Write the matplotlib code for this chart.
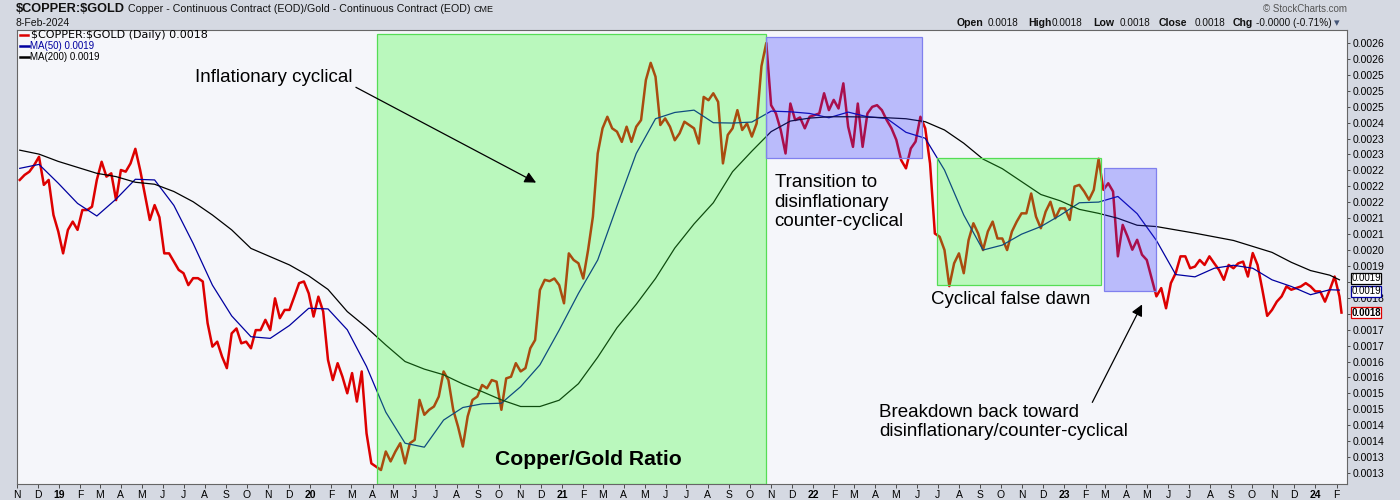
import matplotlib
matplotlib.use("Agg")
import matplotlib.dates as mdates
import matplotlib.pyplot as plt
import pandas as pd
from matplotlib.lines import Line2D
from matplotlib.patches import Rectangle

plt.rcParams["font.family"] = ["Liberation Sans", "DejaVu Sans"]

# weekly copper/gold ratio
week_dates = pd.date_range("2018-11-05", "2024-02-05", freq="7D").append(pd.DatetimeIndex(["2024-02-08"]))
ratio = [
    0.002186, 0.002201, 0.002211, 0.002231, 0.002256, 0.002171, 0.002186, 0.002080, 0.002030, 0.001964,
    0.002035, 0.002060, 0.002035, 0.002095, 0.002095, 0.002105, 0.002186, 0.002241, 0.002196, 0.002206,
    0.002125, 0.002216, 0.002211, 0.002236, 0.002280, 0.002216, 0.002140, 0.002065, 0.002110, 0.002073,
    0.001964, 0.001964, 0.001939, 0.001914, 0.001904, 0.001868, 0.001889, 0.001889, 0.001879, 0.001753,
    0.001682, 0.001697, 0.001652, 0.001617, 0.001722, 0.001737, 0.001692, 0.001697, 0.001677, 0.001732,
    0.001732, 0.001763, 0.001732, 0.001828, 0.001768, 0.001793,
    0.001793, 0.001833, 0.001874, 0.001879, 0.001843, 0.001773, 0.001833, 0.001788, 0.001642, 0.001581,
    0.001632, 0.001591, 0.001541, 0.001602, 0.001516, 0.001607, 0.001420, 0.001329, 0.001319, 0.001309,
    0.001365, 0.001335, 0.001365, 0.001390, 0.001329, 0.001390, 0.001400, 0.001521, 0.001476, 0.001491,
    0.001501, 0.001531, 0.001607, 0.001581, 0.001491, 0.001440, 0.001380, 0.001471, 0.001521, 0.001531,
    0.001566, 0.001556, 0.001581, 0.001576, 0.001491, 0.001586, 0.001591, 0.001632, 0.001607, 0.001617,
    0.001677, 0.001702, 0.001853, 0.001884, 0.001880,
    0.001888, 0.001868, 0.001813, 0.001964, 0.001944, 0.001934, 0.001888, 0.001974, 0.002075, 0.002266,
    0.002342, 0.002377, 0.002342, 0.002332, 0.002301, 0.002347, 0.002301, 0.002347, 0.002367, 0.002488,
    0.002540, 0.002498, 0.002352, 0.002372, 0.002347, 0.002306, 0.002327, 0.002362, 0.002352, 0.002342,
    0.002296, 0.002437, 0.002427, 0.002448, 0.002422, 0.002236, 0.002322, 0.002342, 0.002397, 0.002337,
    0.002357, 0.002317, 0.002357, 0.002530, 0.002600, 0.002412, 0.002387, 0.002337, 0.002266, 0.002417,
    0.002367, 0.002375, 0.002342, 0.002377, 0.002382,
    0.002387, 0.002448, 0.002397, 0.002428, 0.002402, 0.002478, 0.002347, 0.002286, 0.002417, 0.002286,
    0.002387, 0.002407, 0.002412, 0.002397, 0.002367, 0.002342, 0.002307, 0.002246, 0.002221, 0.002281,
    0.002302, 0.002377, 0.002342, 0.002236, 0.002024, 0.002014, 0.001974, 0.001865, 0.001934, 0.001964,
    0.001904, 0.002004, 0.002055, 0.002024, 0.001974, 0.002030, 0.002060, 0.002009, 0.002009, 0.001974,
    0.002030, 0.002060, 0.002085, 0.002085, 0.002145, 0.002075, 0.002040, 0.002090, 0.002120, 0.002070,
    0.002100, 0.002100, 0.002065, 0.002166, 0.002171,
    0.002151, 0.002126, 0.002156, 0.002250, 0.002156, 0.002176, 0.002151, 0.001955, 0.002050, 0.002015,
    0.001975, 0.002005, 0.001960, 0.001944, 0.001889, 0.001834, 0.001859, 0.001798, 0.001874, 0.001904,
    0.001955, 0.001955, 0.001919, 0.001924, 0.001944, 0.001929, 0.001955, 0.001934, 0.001914, 0.001884,
    0.001929, 0.001919, 0.001934, 0.001939, 0.001894, 0.001965, 0.001929, 0.001854, 0.001775, 0.001793,
    0.001818, 0.001834, 0.001864, 0.001854, 0.001859, 0.001864, 0.001874, 0.001864, 0.001849, 0.001849,
    0.001818, 0.001854, 0.001894, 0.001834, 0.001785,
]

# moving averages, read every 4 weeks
ma_dates = pd.date_range("2018-11-05", "2024-01-22", freq="28D").append(pd.DatetimeIndex(["2024-02-05"]))
ma50 = [
    0.002221, 0.002233, 0.002176, 0.002115, 0.002077, 0.002128, 0.002188, 0.002186, 0.002109, 0.001994,
    0.001868, 0.001775, 0.001712, 0.001707, 0.001746, 0.001798, 0.001796, 0.001733, 0.001622, 0.001484,
    0.001390, 0.001378, 0.001460, 0.001498, 0.001509, 0.001511, 0.001561, 0.001627, 0.001732, 0.001843,
    0.001944, 0.002107, 0.002266, 0.002371, 0.002390, 0.002397, 0.002359, 0.002358, 0.002361, 0.002394,
    0.002392, 0.002387, 0.002374, 0.002391, 0.002377, 0.002372, 0.002330, 0.002312, 0.002216, 0.002080,
    0.001974, 0.001989, 0.002022, 0.002045, 0.002079, 0.002117, 0.002119, 0.002136, 0.002084, 0.002003,
    0.001900, 0.001893, 0.001919, 0.001928, 0.001919, 0.001884, 0.001864, 0.001839, 0.001854, 0.001853,
]
ma200 = [
    0.002276, 0.002264, 0.002242, 0.002224, 0.002206, 0.002196, 0.002179, 0.002173, 0.002151, 0.002120,
    0.002080, 0.002035, 0.001979, 0.001954, 0.001929, 0.001896, 0.001855, 0.001788, 0.001740, 0.001687,
    0.001637, 0.001614, 0.001597, 0.001569, 0.001546, 0.001521, 0.001501, 0.001501, 0.001520, 0.001570,
    0.001650, 0.001739, 0.001810, 0.001888, 0.001980, 0.002053, 0.002117, 0.002211, 0.002273, 0.002332,
    0.002364, 0.002373, 0.002377, 0.002377, 0.002376, 0.002374, 0.002371, 0.002362, 0.002337, 0.002297,
    0.002249, 0.002220, 0.002181, 0.002142, 0.002123, 0.002097, 0.002085, 0.002070, 0.002049, 0.002045,
    0.002035, 0.002025, 0.002014, 0.002003, 0.001985, 0.001967, 0.001937, 0.001912, 0.001898, 0.001884,
]

# shaded regimes
regime_start = ["2020-04-07", "2021-10-25", "2022-06-30", "2023-02-28"]
regime_end = ["2021-10-25", "2022-06-09", "2023-02-23", "2023-05-15"]
regime_low = [0.0012667, 0.002252, 0.001868, 0.001850]
regime_high = [0.002627, 0.002618, 0.002252, 0.002221]
regime_kind = ["green", "blue", "green", "blue"]

# the two labels hidden behind the last-value tags are left blank
y_ticks_lo, y_ticks_hi, n_y_ticks = 0.0013, 0.0026, 28
y_tick_labels = [
    "0.0013", "0.0013", "0.0014", "0.0014", "0.0015", "0.0015", "0.0016", "0.0016", "0.0017", "0.0017",
    "", "0.0018", "", "0.0019", "0.0020", "0.0021", "0.0021", "0.0022", "0.0022", "0.0022",
    "0.0023", "0.0023", "0.0024", "0.0025", "0.0025", "0.0025", "0.0026", "0.0026",
]
month_letters = ["J", "F", "M", "A", "M", "J", "J", "A", "S", "O", "N", "D"]

BG_OUT = "#d5d9e2"
BG_IN = "#f5f6fa"
RED = "#dd0000"
NAVY = "#0000a0"
SHADE = {"green": ("#33ff33", "#55dd55"), "blue": ("#3333ff", "#8080ee")}


def px(x, y):
    return x / 1400, 1 - y / 500


fig = plt.figure(figsize=(14, 5), dpi=100, facecolor=BG_OUT)
ax = fig.add_axes([17 / 1400, 1 - 484 / 500, 1330 / 1400, 454 / 500])
ax.set_facecolor(BG_IN)

ax.plot(week_dates, ratio, color=RED, lw=1.8, zorder=2)
ax.plot(ma_dates, ma50, color=NAVY, lw=0.9, zorder=2)
ax.plot(ma_dates, ma200, color="black", lw=0.9, zorder=2)

for s, e, lo, hi, kind in zip(regime_start, regime_end, regime_low, regime_high, regime_kind):
    x0 = mdates.date2num(pd.Timestamp(s))
    x1 = mdates.date2num(pd.Timestamp(e))
    fc, ec = SHADE[kind]
    ax.add_patch(Rectangle((x0, lo), x1 - x0, hi - lo, facecolor=fc, alpha=0.3, lw=0, zorder=3))
    ax.add_patch(Rectangle((x0, lo), x1 - x0, hi - lo, facecolor="none", edgecolor=ec, lw=0.9, zorder=3))

ax.set_xlim(pd.Timestamp("2018-11-01"), pd.Timestamp("2024-02-16"))
ax.set_ylim(0.0012667, 0.0026393)

# annotations
tkw = dict(fontsize=13.5, color="black", zorder=5)
ax.text(pd.Timestamp("2019-07-18"), 0.002497, "Inflationary cyclical", ha="left", va="center", **tkw)
ax.annotate("", xy=(pd.Timestamp("2020-11-28"), 0.002174), xytext=(pd.Timestamp("2020-03-04"), 0.002470),
            arrowprops=dict(arrowstyle="-|>", color="black", lw=0.9, mutation_scale=17), zorder=5)
ax.text(pd.Timestamp("2021-11-06"), 0.002119, "Transition to\ndisinflationary\ncounter-cyclical",
        ha="left", va="center", linespacing=1.22, **tkw)
ax.text(pd.Timestamp("2022-06-22"), 0.001823, "Cyclical false dawn", ha="left", va="center", **tkw)
ax.text(pd.Timestamp("2022-04-07"), 0.001454, "Breakdown back toward\ndisinflationary/counter-cyclical",
        ha="left", va="center", linespacing=1.22, **tkw)
ax.annotate("", xy=(pd.Timestamp("2023-04-26"), 0.001817), xytext=(pd.Timestamp("2023-02-09"), 0.001506),
            arrowprops=dict(arrowstyle="-|>", color="black", lw=0.9, mutation_scale=17), zorder=5)
ax.text(pd.Timestamp("2021-02-09"), 0.001342, "Copper/Gold Ratio", ha="center", va="center",
        fontsize=15.2, fontweight="bold", zorder=5)

# axes styling
for side in ["top", "right", "bottom", "left"]:
    ax.spines[side].set_color("#666666")
    ax.spines[side].set_linewidth(0.8)

yt = [y_ticks_lo + i * (y_ticks_hi - y_ticks_lo) / (n_y_ticks - 1) for i in range(n_y_ticks)]
ax.yaxis.tick_right()
ax.set_yticks(yt)
ax.set_yticklabels(y_tick_labels)
ax.tick_params(axis="y", length=2, width=0.6, pad=2, labelsize=7.5, colors="#333333", labelcolor="black")

months = pd.date_range("2018-11-01", "2024-02-01", freq="MS")
xlabels = [f"{m.year % 100:02d}" if m.month == 1 else month_letters[m.month - 1] for m in months]
ax.set_xticks(months)
ax.set_xticklabels(xlabels)
ax.tick_params(axis="x", length=3, width=0.6, pad=1.5, labelsize=7.5, colors="#333333", labelcolor="black")
for lab, m in zip(ax.get_xticklabels(), months):
    if m.month == 1:
        lab.set_fontweight("bold")

# last-value tags on the right
tags = [(ma200[-1], "black", "normal", 1.0), (ma50[-1], NAVY, "normal", -1.0), (ratio[-1], RED, "bold", 0)]
for val, col, wt, dy in tags:
    ax.annotate(f"{val:.4f}", xy=(1.0, val), xycoords=("axes fraction", "data"), xytext=(3, dy),
                textcoords="offset points", ha="left", va="center", fontsize=7.0, fontweight=wt,
                color="black", annotation_clip=False, zorder=6,
                bbox=dict(boxstyle="square,pad=0.03", fc="white", ec=col, lw=0.9))

# in-chart legend
legend_rows = [
    (RED, "black", f"\\$COPPER:\\$GOLD (Daily) {ratio[-1]:.4f}", 35, 8.0, ["DejaVu Sans"]),
    (NAVY, NAVY, f"MA(50) {ma50[-1]:.4f}", 46, 7.0, ["Liberation Sans"]),
    ("black", "black", f"MA(200) {ma200[-1]:.4f}", 57, 7.0, ["Liberation Sans"]),
]
for lc, tc, txt, yy, fs, fam in legend_rows:
    x0, y0 = px(20, yy)
    x1, _ = px(28 if lc == RED else 29, yy)
    fig.add_artist(Line2D([x0, x1], [y0, y0], color=lc, lw=1.8))
    fig.text(*px(31 if lc == RED else 29.5, yy), txt, fontsize=fs, color=tc, va="center", family=fam)

# header
fig.text(*px(16, 9), "\\$COPPER:\\$GOLD", fontsize=9.2, fontweight="bold", va="center", color="#111111")
fig.text(*px(128, 9), "Copper - Continuous Contract (EOD)/Gold - Continuous Contract (EOD)",
         fontsize=7.7, va="center", color="#111111")
fig.text(*px(474, 9.5), "CME", fontsize=6.5, va="center", color="#111111")
fig.text(*px(16, 23), "8-Feb-2024", fontsize=7.5, va="center", color="#111111")
fig.text(*px(1347, 9), "\u00a9 StockCharts.com", fontsize=7, va="center", ha="right", color="#555555")

ohlc = [("Open", 957, True), ("0.0018", 988, False), ("High", 1028, True), ("0.0018", 1052, False),
        ("Low", 1093, True), ("0.0018", 1120, False), ("Close", 1159, True), ("0.0018", 1195, False),
        ("Chg", 1233, True), ("-0.0000 (-0.71%)", 1256, False)]
for txt, xx, bold in ohlc:
    fig.text(*px(xx, 23), txt, fontsize=7.6 if bold else 7.2, fontweight="bold" if bold else "normal",
             va="center", color="#111111")
fig.text(*px(1334, 23), "\u25be", fontsize=8, va="center", color="#445577", family=["DejaVu Sans"])

fig.savefig("out.png", dpi=100, facecolor=BG_OUT)
